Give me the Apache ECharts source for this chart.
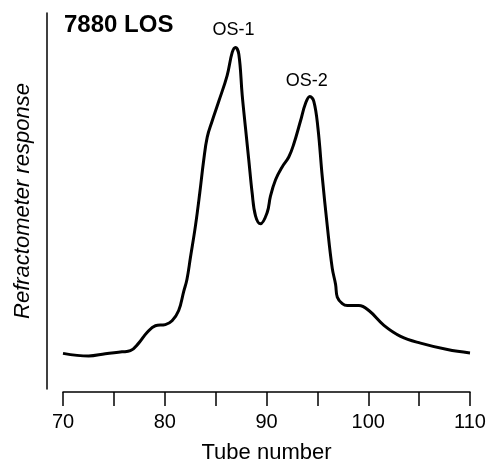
<!DOCTYPE html>
<html>
<head>
<meta charset="utf-8">
<script src="https://cdn.jsdelivr.net/npm/echarts@6/dist/echarts.min.js"></script>
<style>html,body{margin:0;padding:0;background:#fff;}#c{width:490px;height:469px;}</style>
</head>
<body>
<div id="c"></div>
<script>
const tube = [70.0,72.52,74.16,75.80,76.62,77.44,78.26,79.08,80.06,80.72,81.37,81.86,82.18,82.52,83.02,83.44,83.83,84.17,84.66,85.31,86.13,86.63,86.95,87.28,87.61,87.93,88.26,88.59,88.92,89.41,90.07,90.39,90.89,91.54,92.19,92.69,93.34,93.84,94.26,94.65,95.05,95.48,95.97,96.46,96.79,96.96,97.45,97.94,99.08,100.06,101.54,103.18,105.14,107.78,110.0];
const response = [10.2,9.5,10.1,10.6,10.9,12.9,15.7,17.5,17.8,18.8,21.5,26.5,29.7,35.4,43.9,52.5,61.2,67.2,71.5,76.7,83.5,89.6,90.9,89.1,78.4,69.8,61.2,52.5,46.5,44.4,47.4,51.7,56.0,59.4,62.0,65.5,71.5,76.2,78.0,76.7,69.8,56.8,43.9,32.7,28.4,25.0,23.3,22.8,22.8,21.5,17.6,14.7,12.9,11.2,10.3];
const peakLabels = [
  {name: 'OS-1', x: 86.95, y: 90.9, offset: [-2, -17]},
  {name: 'OS-2', x: 94.26, y: 78.0, offset: [-3, -15]}
];
const xTicks = [70, 80, 90, 100, 110];
const FONT = '"Liberation Sans", Arial, Helvetica, sans-serif';
const chart = echarts.init(document.getElementById('c'));
chart.setOption({
  animation: false,
  backgroundColor: '#fff',
  title: {
    text: '7880 LOS', left: 59, top: 8,
    textStyle: {fontFamily: FONT, fontSize: 24, fontWeight: 'bold', color: '#000'}
  },
  grid: {left: 63, right: 20, top: 13, bottom: 72},
  xAxis: {
    type: 'value', min: 70, max: 110, interval: 5, offset: 3,
    axisLine: {show: true, lineStyle: {color: '#000', width: 1.5}},
    axisTick: {show: true, length: 14, lineStyle: {color: '#000', width: 1.5}},
    splitLine: {show: false},
    axisLabel: {
      margin: 20, fontFamily: FONT, fontSize: 20, color: '#000',
      formatter: v => xTicks.indexOf(v) >= 0 ? String(v) : ''
    },
    name: 'Tube number', nameLocation: 'middle', nameGap: 50,
    nameTextStyle: {fontFamily: FONT, fontSize: 22, color: '#000'}
  },
  yAxis: {
    type: 'value', min: 0.8, max: 100, offset: 16,
    axisLine: {show: true, lineStyle: {color: '#000', width: 1.5}},
    axisTick: {show: false}, axisLabel: {show: false}, splitLine: {show: false},
    name: 'Refractometer response', nameLocation: 'middle', nameGap: 13, nameRotate: 90,
    nameTextStyle: {fontFamily: FONT, fontSize: 22, fontStyle: 'italic', color: '#000'}
  },
  series: [{
    type: 'line',
    data: tube.map((t, i) => [t, response[i]]),
    smooth: 0.4,
    symbol: 'none',
    lineStyle: {color: '#000', width: 3},
    markPoint: {
      symbol: 'circle', symbolSize: 0,
      label: {show: true, fontFamily: FONT, fontSize: 18, color: '#000', formatter: p => p.name},
      data: peakLabels.map(p => ({name: p.name, coord: [p.x, p.y], label: {offset: p.offset}}))
    }
  }]
});
</script>
</body>
</html>
